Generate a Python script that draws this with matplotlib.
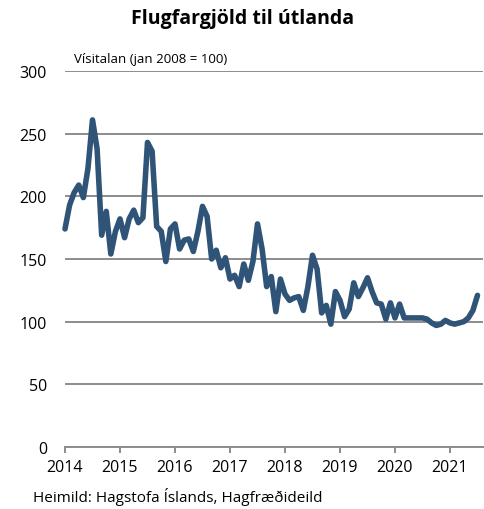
import numpy as np
import matplotlib.pyplot as plt

# Flugfargjöld til útlanda, mánaðarleg vísitala (jan 2008 = 100), jan 2014 - júl 2021
visitala = [
    174, 193, 203, 209, 199, 222, 261, 238, 169, 188, 154, 172,   # 2014
    182, 167, 182, 189, 179, 183, 243, 236, 176, 172, 148, 174,   # 2015
    178, 158, 165, 166, 156, 172, 192, 184, 150, 157, 143, 151,   # 2016
    134, 137, 128, 146, 133, 148, 178, 158, 128, 136, 108, 134,   # 2017
    122, 117, 119, 120, 109, 128, 153, 142, 107, 113, 98, 124,    # 2018
    117, 104, 110, 131, 120, 127, 135, 124, 115, 114, 102, 115,   # 2019
    103, 114, 103, 103, 103, 103, 103, 102, 99, 97, 98, 101,      # 2020
    99, 98, 99, 100, 103, 109, 121,                               # 2021
]
ar = ["2014", "2015", "2016", "2017", "2018", "2019", "2020", "2021"]
y_ticks = [0, 50, 100, 150, 200, 250, 300]

plt.rcParams['font.family'] = ['Open Sans', 'DejaVu Sans']

fig = plt.figure(figsize=(4.85, 5.10), dpi=100)
ax = fig.add_axes([65/485, 62/510, 418/485, 376/510])

manudir = np.arange(len(visitala))
ax.plot(manudir, visitala, color='#2f5477', linewidth=4.0,
        solid_joinstyle='round', solid_capstyle='round', zorder=3, clip_on=False)

ax.set_xlim(0, 91.2)
ax.set_ylim(0, 300)
ax.set_yticks(y_ticks)
ax.set_xticks(np.arange(len(ar)) * 12)
ax.set_xticklabels(ar)

ax.grid(axis='y', color='#8c8c8c', linewidth=1.4)
ax.set_axisbelow(True)
for s in ['top', 'right', 'left']:
    ax.spines[s].set_visible(False)
ax.spines['bottom'].set_color('#8c8c8c')
ax.spines['bottom'].set_linewidth(1.4)
ax.spines['bottom'].set_zorder(2)

ax.tick_params(axis='y', length=0, pad=13, labelsize=11.5, colors='black')
ax.tick_params(axis='x', length=4, width=1.4, color='#8c8c8c', pad=5,
               labelsize=11.5, labelcolor='black')

fig.text(0.5, 0.962, 'Flugfargjöld til útlanda', ha='center', va='center',
         fontsize=14, fontweight='bold')
ax.text(2, 305, 'Vísitalan (jan 2008 = 100)', ha='left', va='bottom', fontsize=9.5)
fig.text(33/485, 1 - 497/510, 'Heimild: Hagstofa Íslands, Hagfræðideild',
         ha='left', va='center', fontsize=11)

fig.savefig('out.png', dpi=100)
